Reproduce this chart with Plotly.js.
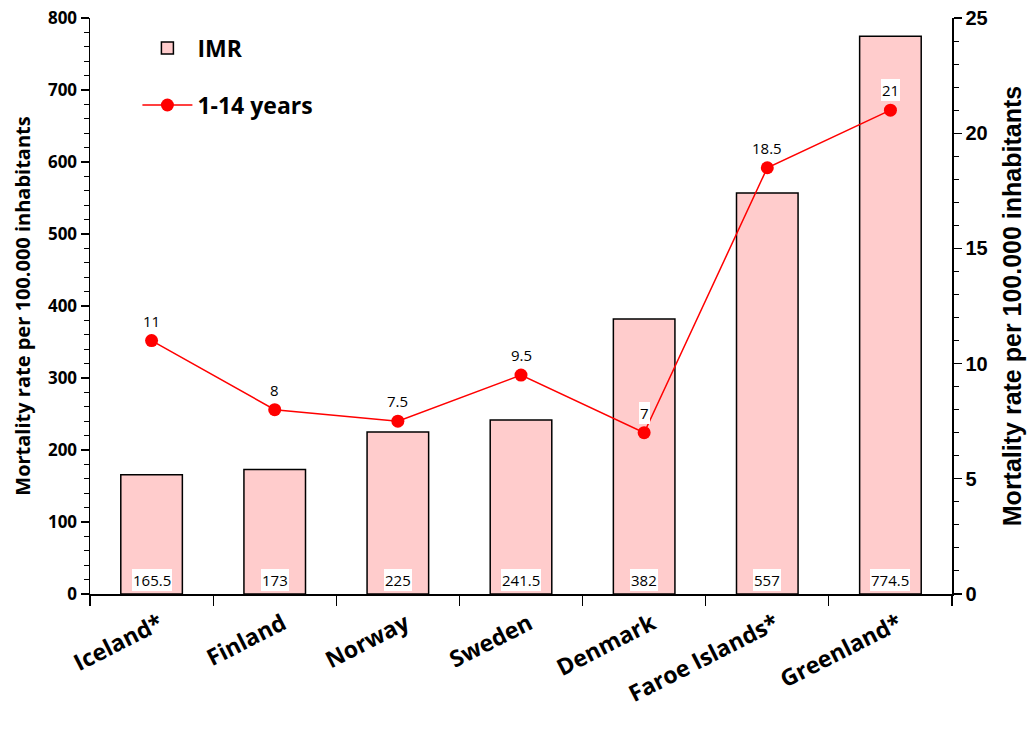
<!DOCTYPE html>
<html>
<head>
<meta charset="utf-8">
<script src="https://cdn.plot.ly/plotly-3.0.1.min.js"></script>
<style>html,body{margin:0;padding:0;background:#fff;}</style>
</head>
<body>
<div id="chart" style="width:1033px;height:729px;"></div>
<script>
const countries = ["Iceland*", "Finland", "Norway", "Sweden", "Denmark", "Faroe Islands*", "Greenland*"];
const imr = [165.5, 173, 225, 241.5, 382, 557, 774.5];
const child = [11, 8, 7.5, 9.5, 7, 18.5, 21];
const imrLabels = ["165.5", "173", "225", "241.5", "382", "557", "774.5"];
const childLabels = ["11", "8", "7.5", "9.5", "7", "18.5", "21"];

const labelFont = {family: "Open Sans, Noto Sans, sans-serif", size: 15, color: "#000"};
const annotations = [];
countries.forEach((c, i) => {
  annotations.push({
    x: c, y: 0, xref: "x", yref: "y", yanchor: "bottom", yshift: 3,
    text: imrLabels[i], showarrow: false, bgcolor: "#fff", borderpad: 1, borderwidth: 0, font: labelFont
  });
  annotations.push({
    x: c, y: child[i], xref: "x", yref: "y2", yanchor: "bottom", yshift: 9,
    text: childLabels[i], showarrow: false, bgcolor: "#fff", borderpad: 1, borderwidth: 0, font: labelFont
  });
});

const data = [
  {
    type: "bar", name: "IMR", x: countries, y: imr, legendgroup: "a",
    marker: {color: "#ffcccc", line: {color: "#000", width: 1.5}},
    width: 0.5
  },
  {
    type: "scatter", mode: "lines+markers", name: "1-14 years", x: countries, y: child,
    yaxis: "y2", legendgroup: "b",
    line: {color: "#ff0000", width: 1.5},
    marker: {color: "#ff0000", size: 13}
  }
];

const layout = {
  width: 1033, height: 729,
  margin: {l: 90, r: 81, t: 18, b: 135},
  paper_bgcolor: "#fff", plot_bgcolor: "#fff",
  showlegend: true,
  legend: {
    x: 0.055, y: 0.985, xanchor: "left", yanchor: "top",
    bgcolor: "rgba(0,0,0,0)", itemwidth: 50, tracegroupgap: 24,
    font: {family: "Open Sans, Noto Sans, sans-serif", size: 23, color: "#000", weight: "bold"}
  },
  xaxis: {
    type: "category", showline: true, linecolor: "#000", linewidth: 1.5,
    ticks: "outside", tickson: "boundaries", ticklen: 10, tickwidth: 1.2, tickcolor: "#000",
    tickangle: -27, showgrid: false, zeroline: false,
    ticklabelshift: 8, ticklabelstandoff: 6,
    tickfont: {family: "Open Sans, Noto Sans, sans-serif", size: 23, color: "#000", weight: "bold"}
  },
  yaxis: {
    range: [0, 800], dtick: 100, showline: true, linecolor: "#000", linewidth: 1.5,
    ticks: "outside", ticklen: 8, tickwidth: 1.2, tickcolor: "#000",
    minor: {dtick: 20, ticks: "outside", ticklen: 5, tickwidth: 1, tickcolor: "#000", showgrid: false},
    showgrid: false, zeroline: false,
    tickfont: {family: "Open Sans, Noto Sans, sans-serif", size: 17, color: "#000", weight: "bold"},
    title: {text: "Mortality rate per 100.000 inhabitants", standoff: 12,
      font: {family: "Open Sans, Noto Sans, sans-serif", size: 20, color: "#000", weight: "bold"}}
  },
  yaxis2: {
    overlaying: "y", side: "right", range: [0, 25], dtick: 5,
    showline: true, linecolor: "#000", linewidth: 1.5,
    ticks: "outside", ticklen: 8, tickwidth: 1.2, tickcolor: "#000",
    minor: {dtick: 1, ticks: "outside", ticklen: 5, tickwidth: 1, tickcolor: "#000", showgrid: false},
    showgrid: false, zeroline: false,
    tickfont: {family: "Liberation Sans, Arial, sans-serif", size: 20, color: "#000", weight: "bold"},
    title: {text: "Mortality rate per 100.000 inhabitants", standoff: 16,
      font: {family: "Liberation Sans, Arial, sans-serif", size: 25, color: "#000", weight: "bold"}}
  },
  annotations: annotations
};

Plotly.newPlot("chart", data, layout, {displayModeBar: false, staticPlot: true});
</script>
</body>
</html>
